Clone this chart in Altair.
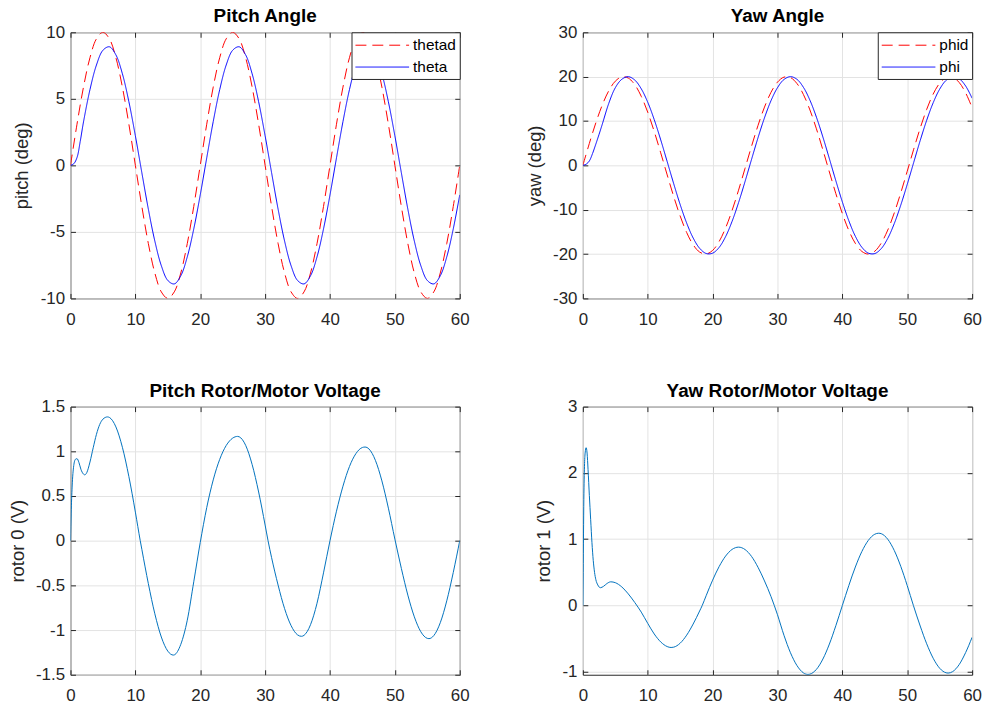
import altair as alt
import pandas as pd

FONT = "Liberation Sans"
AXC = "#262626"
GRID = "#e3e3e3"

# ---------------- data ----------------
x_ticks = [0, 10, 20, 30, 40, 50, 60]

# Pitch Angle
t_sec = list(range(61))
thetad = [0, 3.09, 5.88, 8.09, 9.51, 10, 9.51, 8.09, 5.88, 3.09,
          0, -3.09, -5.88, -8.09, -9.51, -10, -9.51, -8.09, -5.88, -3.09,
          0, 3.09, 5.88, 8.09, 9.51, 10, 9.51, 8.09, 5.88, 3.09,
          0, -3.09, -5.88, -8.09, -9.51, -10, -9.51, -8.09, -5.88, -3.09,
          0, 3.09, 5.88, 8.09, 9.51, 10, 9.51, 8.09, 5.88, 3.09,
          0, -3.09, -5.88, -8.09, -9.51, -10, -9.51, -8.09, -5.88, -3.09,
          0]
theta_t = [0, 0.5, 1, 1.5, 2] + list(range(3, 61))
theta = [0, 0.12, 0.58, 1.8, 3.25,
         5.69, 7.54, 8.65, 8.91, 8.30, 6.88, 4.78, 2.22, -0.56, -3.29,
         -5.69, -7.54, -8.65, -8.91, -8.30, -6.88, -4.78, -2.22,
         0.56, 3.29, 5.69, 7.54, 8.65, 8.91, 8.30, 6.88, 4.78, 2.22,
         -0.56, -3.29, -5.69, -7.54, -8.65, -8.91, -8.30, -6.88, -4.78, -2.22,
         0.56, 3.29, 5.69, 7.54, 8.65, 8.91, 8.30, 6.88, 4.78, 2.22,
         -0.56, -3.29, -5.69, -7.54, -8.65, -8.91, -8.30, -6.88, -4.78, -2.22]
pitch_ticks = [-10, -5, 0, 5, 10]

# Yaw Angle
phid = [0, 4.95, 9.59, 13.63, 16.83, 18.98, 19.95, 19.68, 18.19, 15.56, 11.97,
        7.63, 2.82, -2.16, -7.02, -11.43, -15.14, -17.90, -19.55, -19.99, -19.18,
        -17.18, -14.11, -10.17, -5.59, -0.66, 4.30, 9.00, 13.14, 16.47, 18.76,
        19.89, 19.79, 18.45, 15.97, 12.49, 8.24, 3.48, -1.50, -6.39, -10.88,
        -14.69, -17.59, -19.40, -20.00, -19.36, -17.51, -14.58, -10.73, -6.22, -1.33,
        3.65, 8.40, 12.63, 16.08, 18.52, 19.81, 19.87, 18.70, 16.35, 13.01]
phi_t = [0, 0.5, 1, 1.5, 2, 2.5, 3] + list(range(4, 61))
phi = [0, 0.25, 1.0, 2.7, 4.8, 7.0, 9.3,
       14.0, 17.5, 19.4, 19.99, 19.24, 17.26, 14.23, 10.31, 5.75, 0.83,
       -4.13, -8.85, -13.01, -16.37, -18.70, -19.87, -19.80, -18.52, -16.08, -12.63,
       -8.40, -3.64, 1.34, 6.23, 10.73, 14.58, 17.51, 19.36, 20.00, 19.40,
       17.59, 14.69, 10.87, 6.38, 1.49, -3.49, -8.25, -12.50, -15.98, -18.45,
       -19.79, -19.89, -18.76, -16.46, -13.13, -8.98, -4.29, 0.67, 5.60, 10.17,
       14.11, 17.18, 19.18, 19.99, 19.55, 17.90, 15.13]
yaw_ticks = [-30, -20, -10, 0, 10, 20, 30]

# Pitch Rotor/Motor Voltage
v0_t = [0, 0.1, 0.25, 0.5, 0.75, 1.0, 1.3, 1.6, 2.0, 2.2, 2.5, 3.0, 3.5, 4.0, 4.5, 5.0, 5.7,
        6, 7, 8, 9, 10, 10.75, 11, 12, 13, 14, 15, 15.85, 16, 17, 18, 19, 20,
        21, 22, 23, 24, 25, 25.75, 26, 27, 28, 29, 30, 30.45, 31, 32, 33, 34, 35, 35.6,
        36, 37, 38, 39, 40, 41, 42, 43, 44, 45, 45.4, 46, 47, 48, 49, 50,
        51, 52, 53, 54, 55, 55.25, 56, 57, 58, 59, 60]
v0 = [0, 0.3, 0.6, 0.84, 0.91, 0.918, 0.875, 0.8, 0.745, 0.737, 0.76, 0.88, 1.04, 1.19, 1.3, 1.36, 1.385,
      1.379, 1.273, 1.045, 0.717, 0.32, 0, -0.098, -0.481, -0.818, -1.078, -1.236, -1.28, -1.278, -1.16, -0.89, -0.46, -0.02,
      0.37, 0.68, 0.91, 1.065, 1.148, 1.167, 1.163, 1.067, 0.852, 0.545, 0.175, 0, -0.19, -0.497, -0.76, -0.95, -1.054, -1.07,
      -1.059, -0.94, -0.70, -0.36, 0, 0.33, 0.61, 0.83, 0.975, 1.043, 1.048, 1.027, 0.899, 0.669, 0.364, 0.018,
      -0.31, -0.609, -0.852, -1.019, -1.093, -1.096, -1.062, -0.918, -0.673, -0.356, 0]
v0_ticks = [-1.5, -1, -0.5, 0, 0.5, 1, 1.5]

# Yaw Rotor/Motor Voltage
v1_t = [0, 0.05, 0.15, 0.25, 0.35, 0.5, 0.65, 0.8, 1.0, 1.2, 1.4, 1.6, 1.8, 2.0, 2.3, 2.7, 3.2, 3.7, 4.3,
        5, 6, 7, 8, 9, 10, 11, 12, 13, 13.6, 14, 15, 16, 17, 18, 18.4,
        19, 20, 21, 22, 23, 24, 25, 26, 27, 28, 29, 30, 31, 32, 33, 34, 34.7,
        35, 36, 37, 38, 39, 40, 41, 42, 43, 44, 45, 45.6, 46, 47, 48, 49, 50, 50.95,
        52, 53, 54, 55, 56, 56.3, 57, 58, 59, 60]
v1 = [0, 0.5, 1.6, 2.1, 2.3, 2.38, 2.3, 2.05, 1.66, 1.3, 0.95, 0.68, 0.5, 0.39, 0.31, 0.268, 0.29, 0.33, 0.357,
      0.344, 0.28, 0.175, 0.045, -0.10, -0.27, -0.43, -0.55, -0.62, -0.634, -0.629, -0.569, -0.448, -0.28, -0.083, 0,
      0.147, 0.382, 0.586, 0.745, 0.846, 0.88, 0.844, 0.74, 0.576, 0.37, 0.135, -0.14, -0.45, -0.713, -0.906, -1.017, -1.04,
      -1.036, -0.964, -0.808, -0.582, -0.304, 0, 0.302, 0.58, 0.813, 0.982, 1.075, 1.09, 1.083, 0.999, 0.83, 0.591, 0.3, 0,
      -0.31, -0.578, -0.796, -0.947, -1.016, -1.02, -0.998, -0.893, -0.711, -0.48]
v1_ticks = [-1, 0, 1, 2, 3]

assert len(thetad) == len(t_sec) and len(theta) == len(theta_t)
assert len(phid) == len(t_sec) and len(phi) == len(phi_t)
assert len(v0) == len(v0_t) and len(v1) == len(v1_t)

pitch_df = pd.DataFrame({"t": t_sec + theta_t, "v": thetad + theta,
                         "series": ["thetad"] * len(thetad) + ["theta"] * len(theta)})
yaw_df = pd.DataFrame({"t": t_sec + phi_t, "v": phid + phi,
                       "series": ["phid"] * len(phid) + ["phi"] * len(phi)})
v0_df = pd.DataFrame({"t": v0_t, "v": v0})
v1_df = pd.DataFrame({"t": v1_t, "v": v1})

# ---------------- styling helpers ----------------
TICK = 5


def xaxis():
    return alt.Axis(values=x_ticks, grid=True, gridColor=GRID, domain=False, ticks=False,
                    labelPadding=13, labelFontSize=17, labelFont=FONT, labelColor=AXC,
                    labelFlush=False, title=None)


def yaxis(title, values):
    return alt.Axis(values=values, grid=True, gridColor=GRID, domain=False, ticks=False,
                    labelPadding=6, labelFontSize=17, labelFont=FONT, labelColor=AXC,
                    labelFlush=False, labelExpr="datum.value + ''",
                    title=title, titleFontSize=18.5, titleFont=FONT, titleColor=AXC,
                    titleFontWeight="normal", titlePadding=8.5)


def tick_axis(orient, values):
    # inward tick marks (MATLAB style): axis pulled into the plot by its tick length
    return alt.Axis(orient=orient, values=values, grid=False, domain=False, labels=False,
                    ticks=True, tickSize=TICK, tickColor=AXC, tickWidth=1, offset=-TICK,
                    title=None)


def ptitle(text):
    return alt.TitleParams(text=text, fontSize=19, fontWeight="bold", font=FONT,
                           color="#000000", offset=-3, anchor="middle", frame="group")


def legend():
    return alt.Legend(title=None, orient="top-right", offset=0, symbolType="M-1,0H5",
                      symbolSize=324, symbolStrokeWidth=1, labelFontSize=15.5, labelFont=FONT,
                      labelColor="#000000", labelOffset=39.5, strokeColor=AXC,
                      fillColor="#ffffff", padding=3.5, rowPadding=4, labelLimit=200)


def ghosts(df, ydom, yticks):
    base = alt.Chart(df).mark_line(strokeOpacity=0)
    xsc = alt.Scale(domain=[0, 60], nice=False, zero=False)
    ysc = alt.Scale(domain=ydom, nice=False, zero=False)
    g1 = base.encode(x=alt.X("t:Q", scale=xsc, axis=tick_axis("bottom", x_ticks)),
                     y=alt.Y("v:Q", scale=ysc, axis=tick_axis("left", yticks)))
    g2 = base.encode(x=alt.X("t:Q", scale=xsc, axis=tick_axis("top", x_ticks)),
                     y=alt.Y("v:Q", scale=ysc, axis=tick_axis("right", yticks)))
    return g1, g2


def angle_panel(df, names, ytitle, ydom, yticks, title):
    main = alt.Chart(df).mark_line(strokeWidth=1, interpolate="catmull-rom", clip=True).encode(
        x=alt.X("t:Q", scale=alt.Scale(domain=[0, 60], nice=False, zero=False), axis=xaxis()),
        y=alt.Y("v:Q", scale=alt.Scale(domain=ydom, nice=False, zero=False),
                axis=yaxis(ytitle, yticks)),
        color=alt.Color("series:N", scale=alt.Scale(domain=names, range=["#ff0000", "#0000ff"]),
                        legend=legend()),
        strokeDash=alt.StrokeDash("series:N", scale=alt.Scale(domain=names, range=[[11, 6], [1, 0]]),
                                  legend=legend()),
    )
    g1, g2 = ghosts(df, ydom, yticks)
    return alt.layer(main, g1, g2).resolve_axis(x="independent", y="independent").properties(
        width=392, height=268, title=ptitle(title))


def volt_panel(df, ytitle, ydom, yticks, title):
    main = alt.Chart(df).mark_line(strokeWidth=1, interpolate="monotone", clip=True,
                                   color="#0072bd").encode(
        x=alt.X("t:Q", scale=alt.Scale(domain=[0, 60], nice=False, zero=False), axis=xaxis()),
        y=alt.Y("v:Q", scale=alt.Scale(domain=ydom, nice=False, zero=False),
                axis=yaxis(ytitle, yticks)),
    )
    g1, g2 = ghosts(df, ydom, yticks)
    return alt.layer(main, g1, g2).resolve_axis(x="independent", y="independent").properties(
        width=392, height=270, title=ptitle(title))


p1 = angle_panel(pitch_df, ["thetad", "theta"], "pitch (deg)", [-10, 10], pitch_ticks, "Pitch Angle")
p2 = angle_panel(yaw_df, ["phid", "phi"], "yaw (deg)", [-30, 30], yaw_ticks, "Yaw Angle")
p3 = volt_panel(v0_df, "rotor 0 (V)", [-1.5, 1.5], v0_ticks, "Pitch Rotor/Motor Voltage")
p4 = volt_panel(v1_df, "rotor 1 (V)", [-1.045, 3], v1_ticks, "Yaw Rotor/Motor Voltage")

chart = alt.concat(p1, p2, p3, p4, columns=2, spacing={"row": 109, "column": 124},
                   bounds="flush").resolve_scale(
    x="independent", y="independent", color="independent", strokeDash="independent"
).resolve_legend(color="independent", strokeDash="independent").properties(
    padding={"left": 7, "top": 4, "right": 5, "bottom": 5}, background="#ffffff"
).configure(font=FONT).configure_view(stroke=AXC, strokeWidth=1)

chart.save("out.html", embed_options={"renderer": "svg", "actions": False})
